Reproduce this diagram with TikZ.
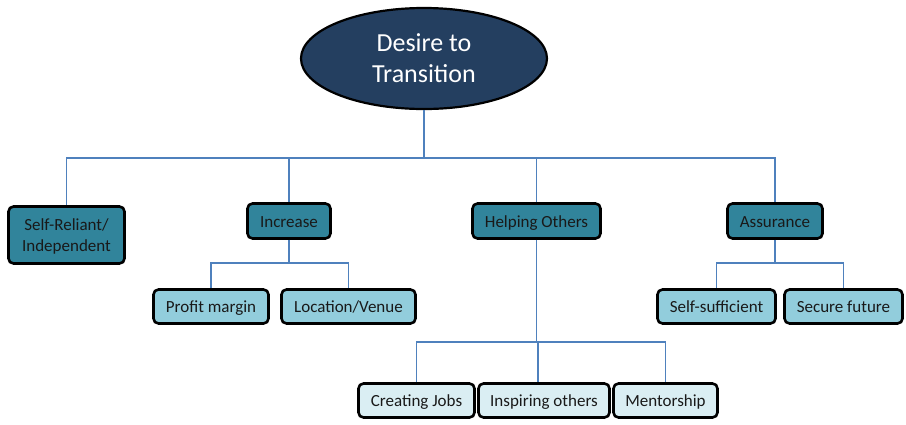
\documentclass[tikz,border=0pt]{standalone}
\usepackage{fontspec}
\setmainfont{Carlito}
\usetikzlibrary{shapes.geometric}
\definecolor{navy}{HTML}{243F60}
\definecolor{tealmid}{HTML}{31849B}
\definecolor{tealpale}{HTML}{92CDDC}
\definecolor{tealfaint}{HTML}{DAEEF3}
\definecolor{linkblue}{HTML}{4F81BD}
\tikzset{
  box/.style={draw=black, line width=2.6pt, rounded corners=5pt, inner sep=0pt,
    align=center, font=\fontsize{17}{21}\selectfont, text=black!90,
    text height=13pt, text depth=1pt},
  twolines/.style={text height=34pt},
  levelone/.style={box, fill=tealmid},
  leveltwo/.style={box, fill=tealpale},
  levelthree/.style={box, fill=tealfaint},
  link/.style={draw=linkblue, line width=1.1pt},
}
\begin{document}
\begin{tikzpicture}[x=1pt, y=-1pt]
\useasboundingbox (0,0) rectangle (906,424);

% root
\node[ellipse, draw=black, line width=2.2pt, fill=navy, minimum width=246pt,
  minimum height=101pt, inner sep=0pt, align=center, text=white,
  font=\fontsize{26}{31}\selectfont] (root) at (424,58.5) {Desire to\\Transition};

% first level
\node[levelone, twolines, minimum width=116pt, minimum height=57pt] (self) at (66.5,235) {Self-Reliant/\\Independent};
\node[levelone, minimum width=83pt, minimum height=35pt] (incr) at (289,221) {Increase};
\node[levelone, minimum width=128pt, minimum height=35pt] (help) at (536.5,221) {Helping Others};
\node[levelone, minimum width=95pt, minimum height=35pt] (assur) at (775,221) {Assurance};

% second level
\node[leveltwo, minimum width=115pt, minimum height=34pt] (profit) at (211,306.5) {Profit margin};
\node[leveltwo, minimum width=134pt, minimum height=34pt] (venue) at (348.5,306.5) {Location/Venue};
\node[leveltwo, minimum width=118pt, minimum height=34pt] (suff) at (716.5,306.5) {Self-sufficient};
\node[leveltwo, minimum width=118pt, minimum height=34pt] (secure) at (843.5,306.5) {Secure future};

% third level
\node[levelthree, minimum width=116pt, minimum height=34pt] (jobs) at (416.5,400.5) {Creating Jobs};
\node[levelthree, minimum width=131pt, minimum height=34pt] (inspire) at (544,400.5) {Inspiring others};
\node[levelthree, minimum width=104pt, minimum height=34pt] (mentor) at (665.5,400.5) {Mentorship};

% connectors
\coordinate (bus) at (0,158);
\draw[link] (root.south) |- (bus -| self) -- (self.north);
\draw[link] (root.south) |- (bus -| assur) -- (assur.north);
\draw[link] (bus -| incr) -- (incr.north);
\draw[link] (bus -| help) -- (help.north);

\coordinate (busA) at (0,263);
\draw[link] (incr.south) |- (busA -| profit) -- (profit.north);
\draw[link] (incr.south) |- (busA -| venue) -- (venue.north);
\draw[link] (assur.south) |- (busA -| suff) -- (suff.north);
\draw[link] (assur.south) |- (busA -| secure) -- (secure.north);

\coordinate (busB) at (0,342);
\draw[link] (help.south) |- (busB -| jobs) -- (jobs.north);
\draw[link] (help.south) |- (busB -| mentor) -- (mentor.north);
\draw[link] ([xshift=1.5pt]busB -| help) -- ([xshift=1.5pt]help |- inspire.north);
\end{tikzpicture}
\end{document}
